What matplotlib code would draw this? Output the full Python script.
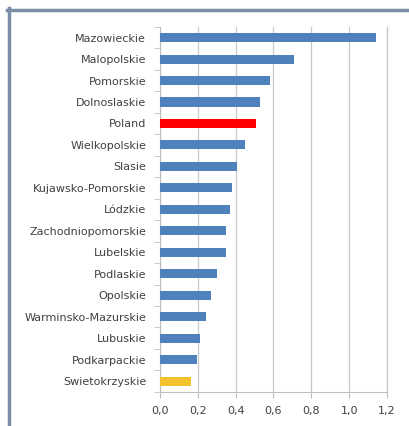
import numpy as np
import matplotlib.pyplot as plt
from matplotlib.lines import Line2D
from matplotlib.ticker import FuncFormatter

# Dane (od góry do dołu)
regiony = ["Mazowieckie", "Malopolskie", "Pomorskie", "Dolnoslaskie", "Poland",
           "Wielkopolskie", "Slasie", "Kujawsko-Pomorskie", "Lódzkie",
           "Zachodniopomorskie", "Lubelskie", "Podlaskie", "Opolskie",
           "Warminsko-Mazurskie", "Lubuskie", "Podkarpackie", "Swietokrzyskie"]
wartosci = [1.14, 0.71, 0.58, 0.53, 0.51, 0.45, 0.41, 0.38, 0.37,
            0.35, 0.35, 0.30, 0.27, 0.245, 0.21, 0.195, 0.165]
xticki = [0.0, 0.2, 0.4, 0.6, 0.8, 1.0, 1.2]

niebieski = "#4F81BD"
kolory = [niebieski] * len(regiony)
kolory[regiony.index("Poland")] = "#FF0000"
kolory[regiony.index("Swietokrzyskie")] = "#F2C12E"

fig = plt.figure(figsize=(4.09, 4.26), dpi=100)
ax = fig.add_axes([0.391, 0.080, 0.555, 0.857])

y = np.arange(len(regiony))
ax.barh(y, wartosci, height=0.42, color=kolory, zorder=3)
ax.set_ylim(len(regiony) - 0.5, -0.5)
ax.set_xlim(0, 1.2)

ax.set_yticks(y)
ax.set_yticklabels(regiony, fontsize=8, color="#404040")
ax.set_yticks(np.arange(-0.5, len(regiony), 1), minor=True)
ax.tick_params(axis="y", which="major", length=0, pad=10)
ax.tick_params(axis="y", which="minor", length=4, color="#BFBFBF", direction="out")

ax.set_xticks(xticki)
ax.xaxis.set_major_formatter(FuncFormatter(lambda v, p: f"{v:.1f}".replace(".", ",")))
ax.tick_params(axis="x", labelsize=8, labelcolor="#404040", length=4, color="#BFBFBF", pad=6)

ax.grid(axis="x", color="#C8C8C8", linewidth=0.9, zorder=0)
ax.axvline(xticki[-1], color="#C8C8C8", linewidth=0.9, zorder=0, clip_on=False)
for s in ["top", "right"]:
    ax.spines[s].set_visible(False)
for s in ["left", "bottom"]:
    ax.spines[s].set_color("#BFBFBF")

# ramka obrazka
fig.add_artist(Line2D([7 / 409, 1], [1 - 9.5 / 426] * 2, color="#7A8FA6", linewidth=2.5))
fig.add_artist(Line2D([8.5 / 409] * 2, [0, 1 - 8 / 426], color="#7A8FA6", linewidth=2.5))

fig.savefig("out.png", dpi=100)
